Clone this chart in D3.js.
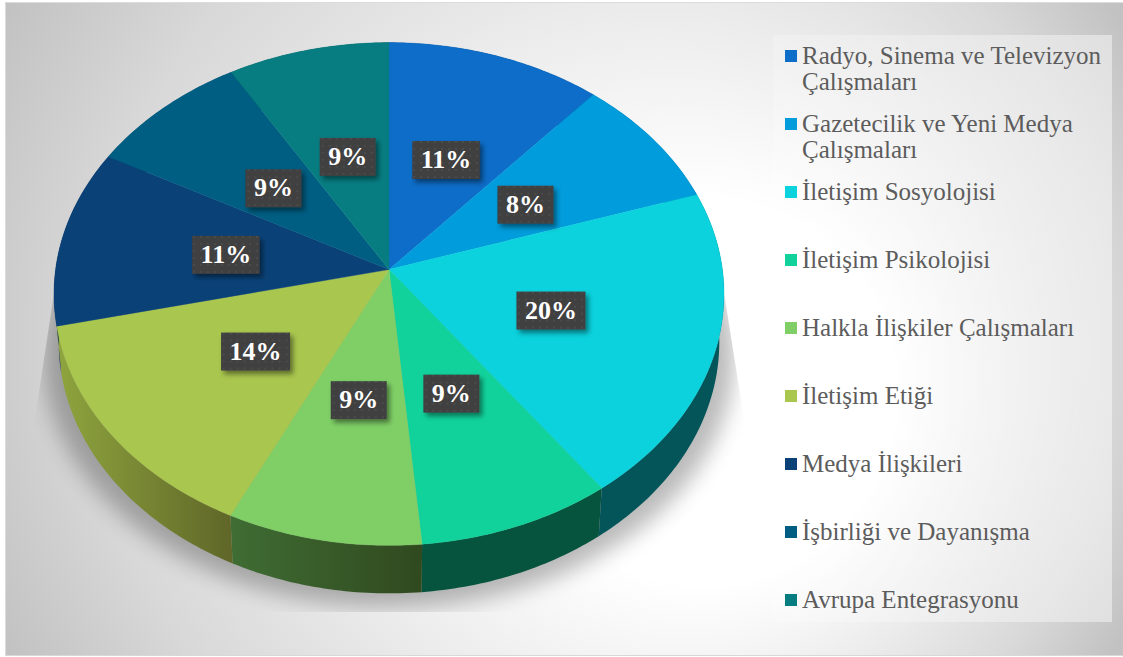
<!DOCTYPE html>
<html lang="tr"><head><meta charset="utf-8">
<script src="https://cdnjs.cloudflare.com/ajax/libs/d3/7.9.0/d3.min.js"></script>
<style>html,body{margin:0;padding:0;background:#fff}svg{display:block}</style></head>
<body><svg id="c" width="1123" height="657"></svg>
<script>
const categories = ["Radyo, Sinema ve Televizyon|Çalışmaları","Gazetecilik ve Yeni Medya|Çalışmaları","İletişim Sosyolojisi","İletişim Psikolojisi","Halkla İlişkiler Çalışmaları","İletişim Etiği","Medya İlişkileri","İşbirliği ve Dayanışma","Avrupa Entegrasyonu"];
const counts = [4,3,7,3,3,5,4,3,3];
const percentLabels = ["11%","8%","20%","9%","9%","14%","11%","9%","9%"];
const topColors = ["#0d6dc8","#019cdb","#0bd2dd","#11d29b","#7fcf66","#a9c64e","#0a4278","#005e83","#077d82"];
const wallLeft = ["#08406f","#005b80","#03555a","#06533e","#3f6d33","#8fa53e","#06284a","#003a50","#044c50"];
const wallRight = ["#08406f","#005b80","#03555a","#06533e","#30491f","#5f6628","#06284a","#003a50","#044c50"];
const legendBaselines = [64,132,200,268,336,404,472,540,608];

const W=1123,H=657, cx=389, cy=269.5;
const svg=d3.select("#c");
const defs=svg.append("defs");

// perspective-tilted disc: unit circle -> screen
const k=0.0974;
const sx=d3.scaleLinear().domain([-1,1]).range([-333.4,333.4]);
const sy=d3.scaleLinear().domain([-1,1]).range([249,-249]);
function project(a,r,scale,dy){
  const X=r*Math.sin(a),Y=r*Math.cos(a),w=1+k*Y;
  return [cx+sx(X)*scale/w, cy+sy(Y)/w+dy];
}
const DEPTH=48, BOT=0.986;
const pie=d3.pie().sort(null).value(d=>d.v)(counts.map((v,i)=>({v,i})));
const line=d3.line();
function rim(a0,a1,scale,dy){
  const n=Math.max(4,Math.ceil((a1-a0)/0.015));
  return d3.range(n+1).map(j=>project(a0+(a1-a0)*j/n,1,scale,dy));
}

// background
const bg=defs.append("radialGradient").attr("id","bg").attr("gradientUnits","userSpaceOnUse")
 .attr("cx",560).attr("cy",328).attr("r",640).attr("fx",765).attr("fy",420);
[[0,"#ffffff"],[0.3,"#ffffff"],[0.55,"#ececec"],[0.8,"#d8d8d8"],[1,"#c2c2c2"]].forEach(s=>bg.append("stop").attr("offset",s[0]).attr("stop-color",s[1]));
svg.append("rect").attr("x",5).attr("y",2).attr("width",W-5).attr("height",653).attr("fill","url(#bg)");
svg.append("path").attr("d","M5.5,655 V2.5 H1123").attr("fill","none").attr("stroke","#dcdcdc");
svg.append("line").attr("x1",5).attr("x2",W).attr("y1",655.5).attr("y2",655.5).attr("stroke","#d8d8d8");

// ground shadow
defs.append("filter").attr("id","blur").attr("x","-20%").attr("y","-20%").attr("width","140%").attr("height","140%")
 .append("feGaussianBlur").attr("stdDeviation",11);
defs.append("clipPath").attr("id","shClip").append("polygon").attr("points","56,280 34,425 34,612 745,612 745,425 722,280");
svg.append("g").attr("clip-path","url(#shClip)").append("path")
 .attr("d",line(rim(0,2*Math.PI,1.03,62))+"Z").attr("fill","#000").attr("opacity",0.27).attr("filter","url(#blur)");

// legend panel
const pg=defs.append("linearGradient").attr("id","panel");
pg.append("stop").attr("offset",0).attr("stop-color","#fff").attr("stop-opacity",0.2);
pg.append("stop").attr("offset",1).attr("stop-color","#fff").attr("stop-opacity",0.45);
svg.append("rect").attr("x",773).attr("y",35).attr("width",339).attr("height",587).attr("fill","url(#panel)");

// walls
const gWalls=svg.append("g");
pie.forEach((d,i)=>{
  const top=rim(d.startAngle,d.endAngle,1,0), bot=rim(d.startAngle,d.endAngle,BOT,DEPTH);
  const xs=top.concat(bot).map(p=>p[0]);
  const g=defs.append("linearGradient").attr("id","w"+i).attr("gradientUnits","userSpaceOnUse")
    .attr("x1",d3.min(xs)).attr("x2",d3.max(xs)).attr("y1",0).attr("y2",0);
  g.append("stop").attr("offset",0).attr("stop-color",wallLeft[i]);
  g.append("stop").attr("offset",1).attr("stop-color",wallRight[i]);
  gWalls.append("path").attr("d",line(top.concat(bot.reverse()))+"Z").attr("fill",`url(#w${i})`);
});

// top face
const gTop=svg.append("g");
pie.forEach((d,i)=>{
  const pts=[[cx,cy]].concat(rim(d.startAngle,d.endAngle,1,0));
  gTop.append("path").attr("d",line(pts)+"Z").attr("fill",topColors[i]).attr("stroke",topColors[i]).attr("stroke-width",0.4);
});

// data labels
const pat=defs.append("pattern").attr("id","dots").attr("patternUnits","userSpaceOnUse").attr("width",7).attr("height",7);
pat.append("rect").attr("width",7).attr("height",7).attr("fill","#3f3f3f");
pat.append("rect").attr("x",2).attr("y",2).attr("width",2).attr("height",2).attr("fill","#4c4c4c");
const ds=defs.append("filter").attr("id","ds").attr("x","-30%").attr("y","-30%").attr("width","170%").attr("height","170%");
ds.append("feDropShadow").attr("dx",3).attr("dy",3.5).attr("stdDeviation",2.5).attr("flood-color","#000").attr("flood-opacity",0.45);
const gLab=svg.append("g");
pie.forEach((d,i)=>{
  const [x,y]=project((d.startAngle+d.endAngle)/2,0.5,1,0);
  const g=gLab.append("g").attr("transform",`translate(${x+1},${y+2})`);
  const box=g.append("rect").attr("fill","url(#dots)").attr("filter","url(#ds)");
  const t=g.append("text").text(percentLabels[i]).attr("text-anchor","middle").attr("y",8)
    .attr("font-family","'Liberation Serif',serif").attr("font-weight","bold").attr("font-size",26).attr("fill","#fff");
  const w=t.node().getComputedTextLength()+17;
  box.attr("x",-w/2).attr("y",-19).attr("width",w).attr("height",38);
});

// legend
const gLeg=svg.append("g");
categories.forEach((c,i)=>{
  const y=legendBaselines[i];
  gLeg.append("rect").attr("x",785).attr("y",y-14).attr("width",12).attr("height",12).attr("fill",topColors[i]);
  c.split("|").forEach((ln,j)=>{
    gLeg.append("text").text(ln).attr("x",802).attr("y",y+j*26)
      .attr("font-family","'Liberation Serif',serif").attr("font-size",25).attr("fill","#5c5c5c");
  });
});
</script></body></html>
